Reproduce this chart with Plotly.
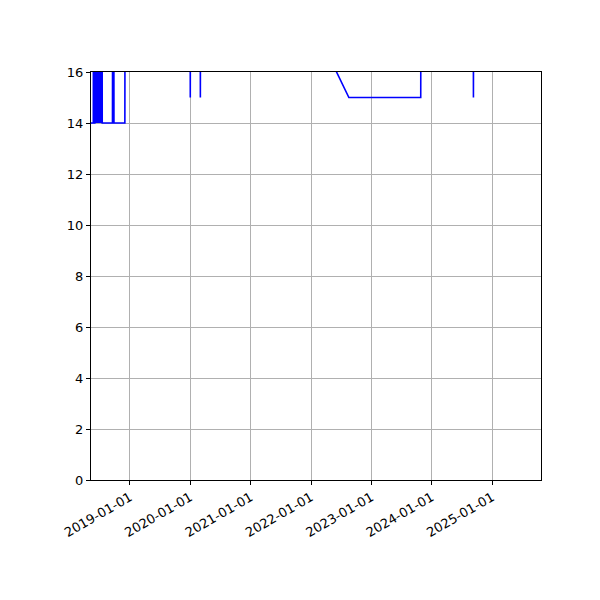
import plotly.graph_objects as go

# values above 16 run off the top of the axis (ylim was fixed at 0-16)
dates = [
    "2018-05-10", "2018-05-24", "2018-05-25", "2018-05-26",
    "2018-06-02", "2018-06-03", "2018-06-05", "2018-06-07", "2018-06-09",
    "2018-06-11", "2018-06-13", "2018-06-15", "2018-06-17", "2018-06-19",
    "2018-06-21", "2018-06-23", "2018-06-25", "2018-06-27", "2018-06-29",
    "2018-07-01", "2018-07-03", "2018-07-05", "2018-07-07", "2018-07-09",
    "2018-07-11", "2018-07-13", "2018-07-16", "2018-07-17",
    "2018-09-17", "2018-09-18", "2018-09-25", "2018-09-26",
    "2018-12-01", "2018-12-02",
    "2019-12-31", "2020-01-01", "2020-01-02",
    "2020-03-01", "2020-03-02", "2020-03-03",
    "2021-08-10", "2022-08-18", "2023-10-27", "2023-10-28",
    "2024-09-09", "2024-09-10", "2024-09-11",
    "2025-10-24",
]
values = [
    14, 14, 20, 14,
    14, 20, 14, 20, 14,
    20, 14, 20, 14, 20,
    14, 20, 14, 20, 14,
    20, 14, 20, 14, 20,
    14, 20, 20, 14,
    14, 20, 20, 14,
    14, 20,
    20, 15, 20,
    20, 15, 20,
    20, 15, 15, 20,
    20, 15, 20,
    20,
]

x_range = ["2018-05-10", "2025-10-24"]
y_range = [0, 16]
y_ticks = [0, 2, 4, 6, 8, 10, 12, 14, 16]

fig = go.Figure()
fig.add_trace(go.Scatter(
    x=dates, y=values, mode="lines",
    line=dict(color="blue", width=1.6),
    showlegend=False,
))

axis_style = dict(
    showline=True, linecolor="black", linewidth=1, mirror=True,
    ticks="outside", ticklen=4, tickcolor="black", tickwidth=1,
    showgrid=True, gridcolor="#b0b0b0", gridwidth=0.8,
    zeroline=False,
    tickfont=dict(family="DejaVu Sans", size=13, color="black"),
)

fig.update_xaxes(
    range=x_range, type="date",
    tick0="2019-01-01", dtick="M12", tickformat="%Y-%m-%d",
    tickangle=-30,
    **axis_style,
)
fig.update_yaxes(range=y_range, tickvals=y_ticks, **axis_style)

# page puts the figure ~8px in from the corner, so margins are shifted to match
fig.update_layout(
    width=600, height=600,
    margin=dict(l=83, r=67, t=64, b=128),
    paper_bgcolor="white", plot_bgcolor="white",
)

fig.write_html("out.html")
